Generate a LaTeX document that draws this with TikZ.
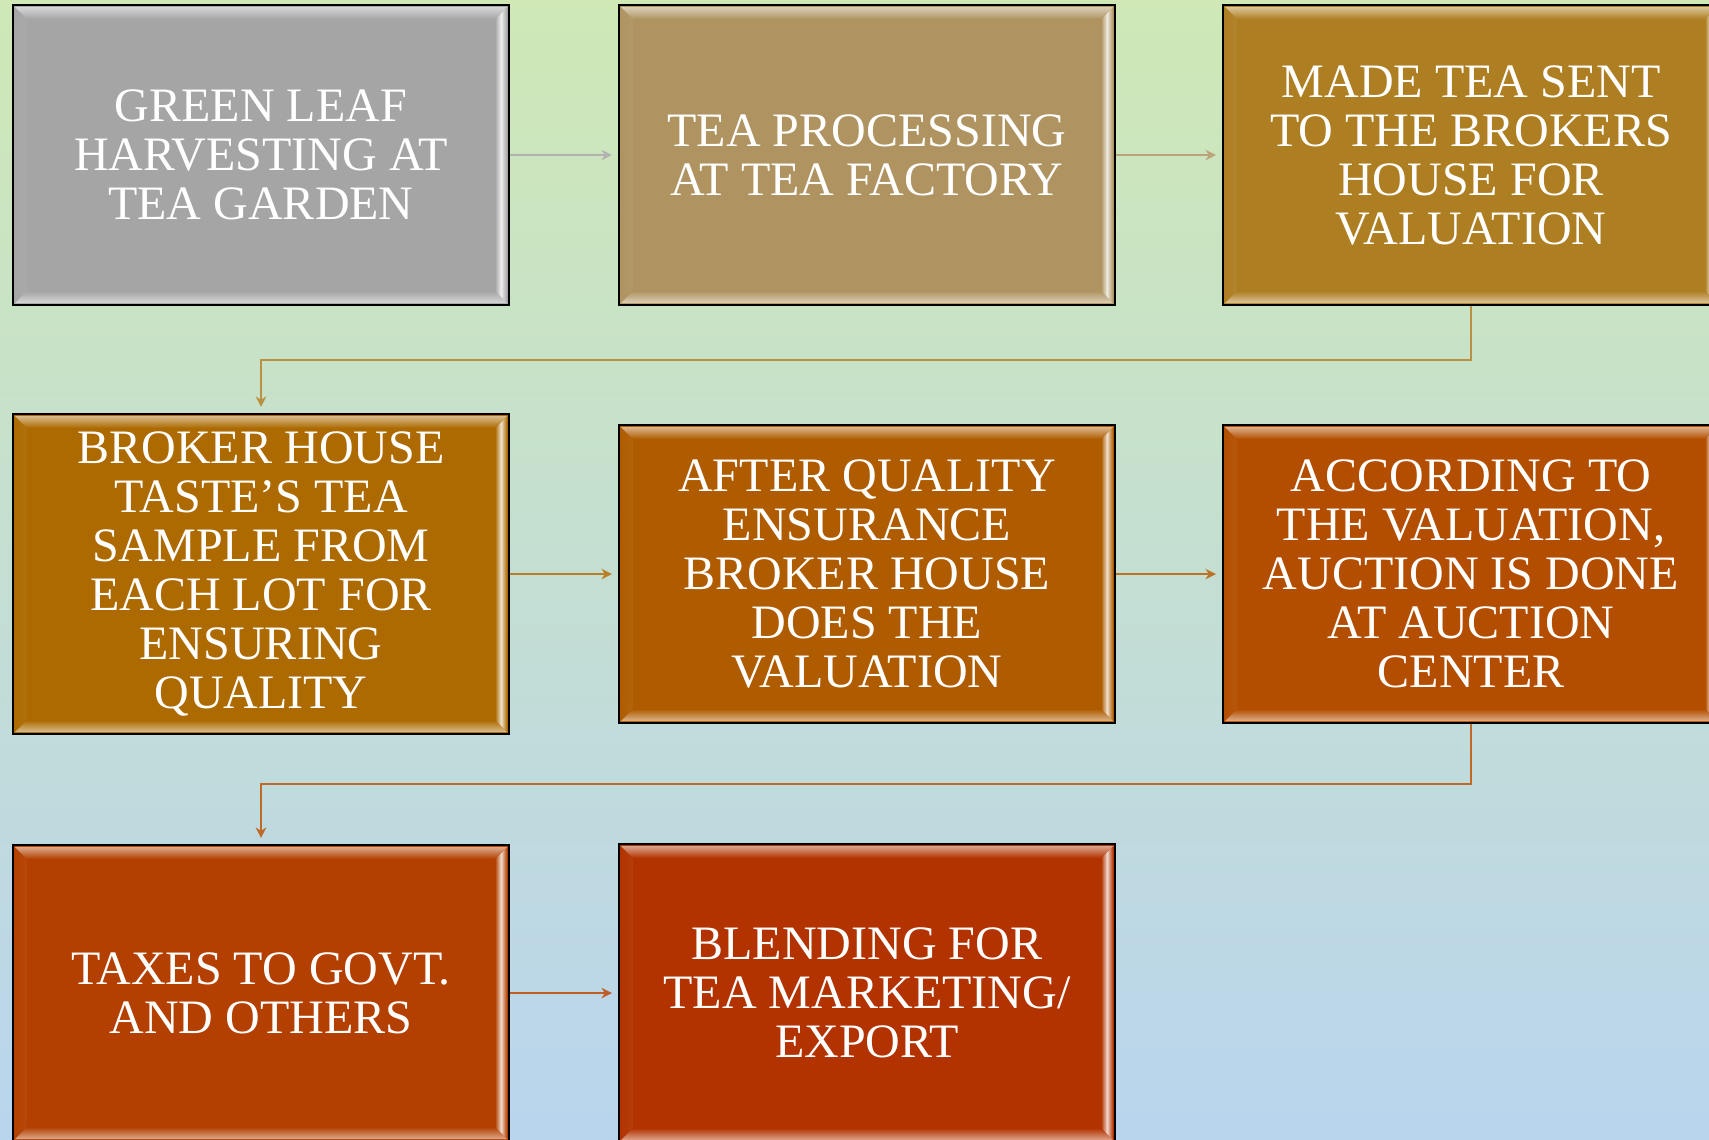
\documentclass[tikz,border=0pt]{standalone}
\usepackage{fontspec}
\setmainfont{Liberation Serif}
\usetikzlibrary{positioning,arrows.meta}
\definecolor{bgtop}{HTML}{CFE8B6}
\definecolor{bgbot}{HTML}{B9D5EE}
\definecolor{harvestc}{HTML}{A5A5A5}
\definecolor{processc}{HTML}{AF9461}
\definecolor{sentc}{HTML}{AE7E22}
\definecolor{tastec}{HTML}{AC6A00}
\definecolor{valuatec}{HTML}{AF5C00}
\definecolor{auctionc}{HTML}{B34E00}
\definecolor{taxesc}{HTML}{B34000}
\definecolor{blendc}{HTML}{B23300}
\newcommand{\boxfont}{\fontsize{13.66}{13.95}\selectfont}

\begin{document}
\begin{tikzpicture}[
  procbox/.style={draw=black, line width=0.6pt, fill=#1, text=white,
                  minimum width=4.96cm, minimum height=3cm, inner sep=0pt,
                  align=center, font=\boxfont,
                  path picture={
                    % bevel: left and right strips
                    \shade[left color=#1, right color=#1, middle color=#1!20!white]
                      ([shift={(0.02,-0.02)}]path picture bounding box.north west)
                      -- ++(0.12,-0.12)
                      -- ([shift={(0.14,0.14)}]path picture bounding box.south west)
                      -- ([shift={(0.02,0.02)}]path picture bounding box.south west) -- cycle;
                    \shade[left color=#1, right color=#1, middle color=#1!20!white]
                      ([shift={(-0.02,-0.02)}]path picture bounding box.north east)
                      -- ++(-0.12,-0.12)
                      -- ([shift={(-0.14,0.14)}]path picture bounding box.south east)
                      -- ([shift={(-0.02,0.02)}]path picture bounding box.south east) -- cycle;
                    % bevel: top and bottom strips
                    \shade[top color=#1!45!white, bottom color=#1]
                      ([shift={(0.02,-0.02)}]path picture bounding box.north west)
                      -- ([shift={(-0.02,-0.02)}]path picture bounding box.north east)
                      -- ++(-0.12,-0.12)
                      -- ([shift={(0.14,-0.14)}]path picture bounding box.north west) -- cycle;
                    \shade[top color=#1, bottom color=#1!45!white]
                      ([shift={(0.02,0.02)}]path picture bounding box.south west)
                      -- ([shift={(-0.02,0.02)}]path picture bounding box.south east)
                      -- ++(-0.12,0.12)
                      -- ([shift={(0.14,0.14)}]path picture bounding box.south west) -- cycle;
                  }},
  flow/.style={draw=#1!85!white, line width=0.45pt, shorten >=0.06cm,
               -{Stealth[length=3pt, width=3pt]}}
]

  % --- Page and background ---
  \useasboundingbox (0,0) rectangle (17.09,-11.39);
  \clip (0,0) rectangle (17.09,-11.39);
  \shade[top color=bgtop, bottom color=bgbot] (0,0) rectangle (17.09,-11.39);

  % --- Row 1 ---
  \node[procbox=harvestc] (harvest) at (2.61,-1.55)
    {GREEN LEAF\\HARVESTING AT\\TEA GARDEN};
  \node[procbox=processc] (process) at (8.67,-1.55)
    {TEA PROCESSING\\AT TEA FACTORY};
  \node[procbox=sentc] (sent) at (14.71,-1.55)
    {MADE TEA SENT\\TO THE BROKERS\\HOUSE FOR\\VALUATION};

  % --- Row 2 ---
  \node[procbox=tastec, minimum height=3.2cm] (taste) at (2.61,-5.74)
    {BROKER HOUSE\\TASTE’S TEA\\SAMPLE FROM\\EACH LOT FOR\\ENSURING\\QUALITY};
  \node[procbox=valuatec, minimum height=2.98cm] (valuate) at (8.67,-5.74)
    {AFTER QUALITY\\ENSURANCE\\BROKER HOUSE\\DOES THE\\VALUATION};
  \node[procbox=auctionc, minimum height=2.98cm] (auction) at (14.71,-5.74)
    {ACCORDING TO\\THE VALUATION,\\AUCTION IS DONE\\AT AUCTION\\CENTER};

  % --- Row 3 ---
  \node[procbox=taxesc, minimum height=2.96cm] (taxes) at (2.61,-9.93)
    {TAXES TO GOVT.\\AND OTHERS};
  \node[procbox=blendc, minimum height=2.98cm] (blend) at (8.67,-9.93)
    {BLENDING FOR\\TEA MARKETING/\\EXPORT};

  % --- Connectors ---
  \draw[flow=harvestc] (harvest.east) -- (process.west);
  \draw[flow=processc] (process.east) -- (sent.west);
  \draw[flow=sentc] (sent.south) -- ++(0,-0.54) -| (taste.north);
  \draw[flow=tastec] (taste.east) -- (valuate.west);
  \draw[flow=valuatec] (valuate.east) -- (auction.west);
  \draw[flow=auctionc] (auction.south) -- ++(0,-0.60) -| (taxes.north);
  \draw[flow=taxesc] (taxes.east) -- (blend.west);

\end{tikzpicture}
\end{document}
